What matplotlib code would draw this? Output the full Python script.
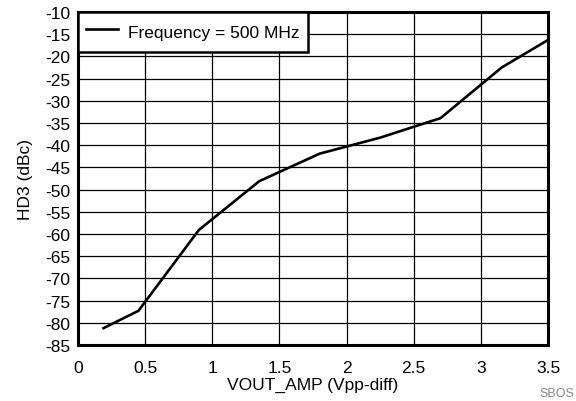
import matplotlib
matplotlib.use("Agg")
import matplotlib.pyplot as plt
import numpy as np

plt.rcParams['font.family'] = ['Liberation Sans', 'DejaVu Sans']

vout = [0.19, 0.45, 0.90, 1.35, 1.80, 2.25, 2.70, 3.155, 3.50]
hd3 = [-81.2, -77.3, -59.1, -48.1, -41.9, -38.3, -33.9, -22.5, -16.3]
series_label = "Frequency = 500 MHz"
xticks = [0, 0.5, 1, 1.5, 2, 2.5, 3, 3.5]
xtick_labels = ["0", "0.5", "1", "1.5", "2", "2.5", "3", "3.5"]
yticks = list(range(-85, -5, 5))
ytick_labels = [str(v) for v in yticks]

FS = 12.5
fig = plt.figure(figsize=(5.76, 4.02), dpi=100)
ax = fig.add_axes([78/576, 1-346/402, (548-78)/576, (346-13)/402])

ax.plot(vout, hd3, color='black', lw=1.9, label=series_label, zorder=3)
ax.set_xlim(0, 3.5)
ax.set_ylim(-85, -10)
ax.set_xticks(xticks)
ax.set_xticklabels(xtick_labels)
ax.set_yticks(yticks)
ax.set_yticklabels(ytick_labels)
ax.tick_params(length=0, labelsize=FS)
ax.tick_params(axis='x', pad=11)
ax.tick_params(axis='y', pad=5.5)
ax.grid(True, color='black', lw=0.9)
for s in ax.spines.values():
    s.set_linewidth(2.2)
ax.set_xlabel("VOUT_AMP (Vpp-diff)", fontsize=FS, labelpad=1)
ax.set_ylabel("HD3 (dBc)", fontsize=FS, labelpad=9)

leg = ax.legend(loc='upper left', fontsize=FS, frameon=True, fancybox=False,
                borderaxespad=0, handlelength=1.85, handletextpad=0.6,
                handleheight=1.75, borderpad=0.45, framealpha=1)
leg.get_frame().set_edgecolor('black')
leg.get_frame().set_linewidth(1.8)

fig.text(539/576, 1-394/402, "SBOS", fontsize=9, color='#888888', ha='left', va='center')

fig.savefig("out.png", dpi=100)
